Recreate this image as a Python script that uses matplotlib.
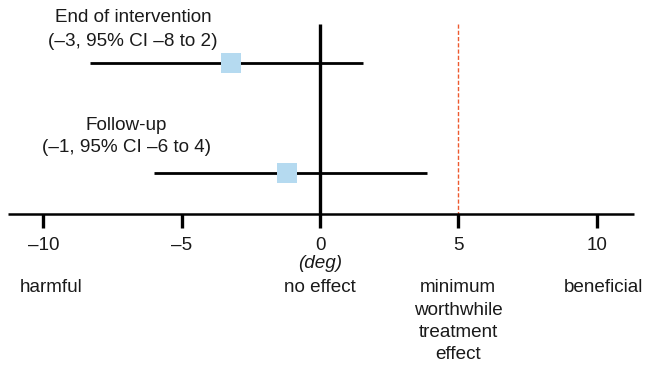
import matplotlib.pyplot as plt

plt.rcParams['font.family'] = ['Liberation Sans', 'DejaVu Sans']

# data (effect in degrees)
labels = ["End of intervention", "Follow-up"]
ci_text = ["(\u20133, 95% CI \u20138 to 2)", "(\u20131, 95% CI \u20136 to 4)"]
estimates = [-3.2, -1.2]
ci_low = [-8.3, -6.0]
ci_high = [1.55, 3.85]
ticks = [-10, -5, 0, 5, 10]
tick_labels = ["\u201310", "\u20135", "0", "5", "10"]
mwte = 5
mwte_lines = ["minimum", "worthwhile", "treatment", "effect"]

fig = plt.figure(figsize=(6.49, 3.65), dpi=100)
ax = fig.add_axes([0, 0, 1, 1])
ax.set_xlim(-11.565, 11.89)
ax.set_ylim(365, 0)  # vertical in pixel rows
ax.axis("off")

txt = "#1a1a1a"
fs = 13.6
row_y = [63, 173]
label_y = [(17, 41), (125, 148)]
label_x = [-6.76, -7.0]

# zero line and minimum worthwhile line
ax.plot([0, 0], [24, 214], color="black", lw=2.4, solid_capstyle="butt")
ax.plot([mwte, mwte], [24, 214], color="#ee5a2f", lw=1.0, ls=(0, (3, 1.5)))

# axis
ax.plot([-11.28, 11.35], [214, 214], color="black", lw=1.8, solid_capstyle="butt")
for t, tl in zip(ticks, tick_labels):
    ax.plot([t, t], [214, 228], color="black", lw=2.4, solid_capstyle="butt")
    ax.text(t, 245, tl, ha="center", va="center", fontsize=fs, color=txt)

ax.text(0, 264, "(deg)", ha="center", va="center", fontsize=fs, style="italic", color=txt)
ax.text(-9.7, 287, "harmful", ha="center", va="center", fontsize=fs, color=txt)
ax.text(0, 287, "no effect", ha="center", va="center", fontsize=fs, color=txt)
ax.text(10.25, 287, "beneficial", ha="center", va="center", fontsize=fs, color=txt)
for j, line in enumerate(mwte_lines):
    ax.text(mwte, 288 + 22.3 * j, line, ha="center", va="center", fontsize=fs, color=txt)

# estimates with confidence intervals
for i in range(len(labels)):
    y = row_y[i]
    ax.plot([ci_low[i], ci_high[i]], [y, y], color="black", lw=2.0, solid_capstyle="butt")
    ax.scatter([estimates[i]], [y], marker="s", s=210, color="#b5daf0", zorder=3, linewidths=0)
    ax.text(label_x[i], label_y[i][0], labels[i], ha="center", va="center", fontsize=fs, color=txt)
    ax.text(label_x[i], label_y[i][1], ci_text[i], ha="center", va="center", fontsize=fs, color=txt)

fig.savefig("out.png", dpi=100)
